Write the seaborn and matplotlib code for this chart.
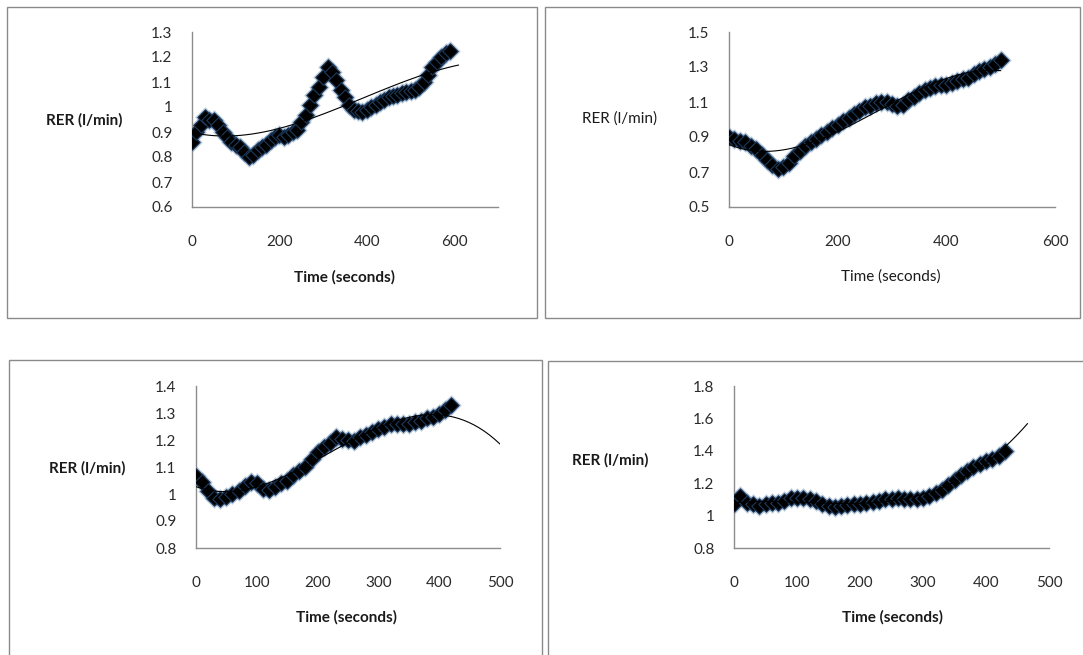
import matplotlib
matplotlib.use('Agg')
import matplotlib.pyplot as plt
import numpy as np
import pandas as pd
import seaborn as sns
from matplotlib.patches import Rectangle

sns.set_style('white')
plt.rcParams['font.family'] = ['Lato', 'DejaVu Sans']

#%% data (time in s, RER)
t1 = [0, 10, 20, 30, 40, 50, 60, 70, 80, 90, 100, 110, 120, 130, 140, 150, 160, 170, 180, 190,
      200, 210, 220, 230, 240, 250, 260, 270, 280, 290, 300, 310, 320, 330, 340, 350, 360, 370, 380, 390,
      400, 410, 420, 430, 440, 450, 460, 470, 480, 490, 500, 510, 520, 530, 540, 550, 560, 570, 580, 590]
rer1 = [0.86, 0.90, 0.93, 0.96, 0.95, 0.95, 0.93, 0.90, 0.88, 0.86, 0.85, 0.84, 0.82, 0.80, 0.81, 0.83, 0.84, 0.85, 0.87, 0.88,
        0.89, 0.88, 0.89, 0.90, 0.91, 0.94, 0.97, 1.01, 1.05, 1.08, 1.12, 1.16, 1.14, 1.11, 1.07, 1.04, 1.01, 0.99, 0.985, 0.98,
        0.99, 1.00, 1.01, 1.02, 1.03, 1.04, 1.045, 1.05, 1.055, 1.06, 1.065, 1.07, 1.08, 1.10, 1.13, 1.16, 1.18, 1.20, 1.215, 1.225]

t2 = [0, 10, 20, 30, 40, 50, 60, 70, 80, 90, 100, 110, 120, 130, 140, 150, 160, 170, 180, 190,
      200, 210, 220, 230, 240, 250, 260, 270, 280, 290, 300, 310, 320, 330, 340, 350, 360, 370, 380, 390,
      400, 410, 420, 430, 440, 450, 460, 470, 480, 490, 500]
rer2 = [0.90, 0.89, 0.88, 0.87, 0.85, 0.83, 0.80, 0.77, 0.74, 0.72, 0.73, 0.75, 0.79, 0.82, 0.85, 0.87, 0.89, 0.91, 0.93, 0.95,
        0.97, 0.99, 1.01, 1.03, 1.05, 1.07, 1.08, 1.095, 1.10, 1.10, 1.09, 1.08, 1.085, 1.11, 1.13, 1.15, 1.17, 1.18, 1.19, 1.195,
        1.20, 1.21, 1.22, 1.23, 1.24, 1.26, 1.28, 1.29, 1.30, 1.32, 1.34]

t3 = [0, 10, 20, 30, 40, 50, 60, 70, 80, 90, 100, 110, 120, 130, 140, 150, 160, 170, 180, 190,
      200, 210, 220, 230, 240, 250, 260, 270, 280, 290, 300, 310, 320, 330, 340, 350, 360, 370, 380, 390,
      400, 410, 420]
rer3 = [1.065, 1.045, 1.01, 0.985, 0.98, 0.99, 1.00, 1.01, 1.03, 1.045, 1.04, 1.02, 1.015, 1.025, 1.04, 1.05, 1.07, 1.085, 1.10, 1.13,
        1.155, 1.175, 1.19, 1.21, 1.205, 1.20, 1.195, 1.21, 1.22, 1.23, 1.24, 1.25, 1.26, 1.26, 1.26, 1.26, 1.265, 1.27, 1.28, 1.285,
        1.295, 1.31, 1.33]

t4 = [0, 10, 20, 30, 40, 50, 60, 70, 80, 90, 100, 110, 120, 130, 140, 150, 160, 170, 180, 190,
      200, 210, 220, 230, 240, 250, 260, 270, 280, 290, 300, 310, 320, 330, 340, 350, 360, 370, 380, 390,
      400, 410, 420, 430]
rer4 = [1.07, 1.12, 1.08, 1.07, 1.06, 1.07, 1.075, 1.08, 1.09, 1.11, 1.11, 1.11, 1.10, 1.09, 1.07, 1.06, 1.055, 1.06, 1.067, 1.07,
        1.07, 1.08, 1.085, 1.09, 1.10, 1.105, 1.11, 1.105, 1.10, 1.10, 1.11, 1.12, 1.14, 1.16, 1.19, 1.22, 1.25, 1.275, 1.30, 1.32,
        1.34, 1.35, 1.37, 1.40]

# axis ticks as shown in the excel charts
yt1 = [0.6, 0.7, 0.8, 0.9, 1.0, 1.1, 1.2, 1.3]
yl1 = ['0.6', '0.7', '0.8', '0.9', '1', '1.1', '1.2', '1.3']
yt2 = [0.5, 0.7, 0.9, 1.1, 1.3, 1.5]
yl2 = ['0.5', '0.7', '0.9', '1.1', '1.3', '1.5']
yt3 = [0.8, 0.9, 1.0, 1.1, 1.2, 1.3, 1.4]
yl3 = ['0.8', '0.9', '1', '1.1', '1.2', '1.3', '1.4']
yt4 = [0.8, 1.0, 1.2, 1.4, 1.6, 1.8]
yl4 = ['0.8', '1', '1.2', '1.4', '1.6', '1.8']
xt_600 = [0, 200, 400, 600]
xt_500 = [0, 100, 200, 300, 400, 500]

W, H = 1083, 655
fig = plt.figure(figsize=(W / 100, H / 100), dpi=100)
fig.patch.set_facecolor('white')


def px_axes(l, t, r, b):
    return fig.add_axes([l / W, 1 - b / H, (r - l) / W, (b - t) / H])


def frame(l, t, r, b):
    fig.patches.append(Rectangle((l / W, 1 - b / H), (r - l) / W, (b - t) / H,
                                 transform=fig.transFigure, fill=False,
                                 edgecolor='#8a8a8a', linewidth=1.0))


def panel(box, rect, t, rer, order, t_end, xlim, xticks, yticks, ylabels,
          ylab_xy, xlab_xy, weight):
    frame(*box)
    ax = px_axes(*rect)
    df = pd.DataFrame({'time': t, 'rer': rer})
    # soft blue halo like the excel marker shadow, then the black diamonds
    sns.scatterplot(data=df, x='time', y='rer', ax=ax, marker='D', s=110,
                    color='#3f6f9f', alpha=0.35, linewidth=0, zorder=2)
    sns.scatterplot(data=df, x='time', y='rer', ax=ax, marker='D', s=62,
                    color='black', edgecolor='#1d3a5e', linewidth=0.8, zorder=3)
    # polynomial trendline (excel style), extended to t_end
    coef = np.polyfit(df.time, df.rer, order)
    tt = np.linspace(0, t_end, 60)
    trend = pd.DataFrame({'time': tt, 'rer': np.polyval(coef, tt)})
    sns.lineplot(data=trend, x='time', y='rer', ax=ax, color='black',
                 linewidth=0.8, zorder=4)

    ax.set_xlim(xlim)
    ax.set_ylim(yticks[0], yticks[-1])
    ax.set_xticks(xticks)
    ax.set_xticklabels([str(x) for x in xticks])
    ax.set_yticks(yticks)
    ax.set_yticklabels(ylabels)
    ax.tick_params(length=0, labelsize=11, labelcolor='#2a2a2a')
    ax.tick_params(axis='x', pad=20)
    ax.tick_params(axis='y', pad=14)
    ax.set_xlabel('')
    ax.set_ylabel('')
    for s in ['top', 'right']:
        ax.spines[s].set_visible(False)
    for s in ['left', 'bottom']:
        ax.spines[s].set_color('#8c8c8c')
        ax.spines[s].set_linewidth(1.0)
    ax.patch.set_alpha(0)

    fig.text(ylab_xy[0] / W, 1 - ylab_xy[1] / H, 'RER (l/min)', ha='center', va='center',
             fontsize=11, fontweight=weight, color='#1a1a1a')
    fig.text(xlab_xy[0] / W, 1 - xlab_xy[1] / H, 'Time (seconds)', ha='center', va='center',
             fontsize=11, fontweight=weight, color='#1a1a1a')
    return ax


panel((7, 7, 537, 318), (192, 32, 498, 207), t1, rer1, 3, 610, (0, 700), xt_600,
      yt1, yl1, (84, 120), (344, 277), 'bold')
panel((545, 7, 1080, 318), (729, 32, 1055, 207), t2, rer2, 3, 500, (0, 600), xt_600,
      yt2, yl2, (620, 119), (891, 277), 'normal')
panel((9, 360, 542, 700), (196, 386, 500, 548), t3, rer3, 3, 500, (0, 500), xt_500,
      yt3, yl3, (87, 468), (347, 617), 'bold')
panel((548, 361, 1100, 700), (734, 386, 1049, 548), t4, rer4, 3, 466, (0, 500), xt_500,
      yt4, yl4, (610, 460), (893, 617), 'bold')

fig.savefig('out.png', dpi=100)
